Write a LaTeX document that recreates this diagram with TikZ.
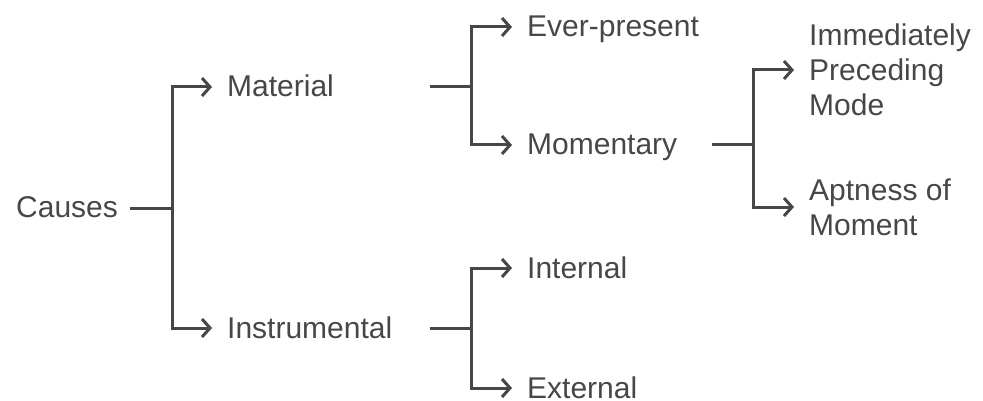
\documentclass[tikz,border=0pt]{standalone}
\usepackage{fontspec}
\setmainfont{Liberation Sans}
\usetikzlibrary{arrows.meta}
\definecolor{ink}{HTML}{474747}
\begin{document}
\begin{tikzpicture}[x=1pt,y=-1pt,
  lbl/.style={inner sep=0pt, anchor=base west, text=ink, font=\fontsize{30}{35}\selectfont},
  mlbl/.style={inner sep=0pt, anchor=west, text=ink, align=left, font=\fontsize{30}{35}\selectfont},
  link/.style={draw=ink, line width=3pt},
  arr/.style={link, -{Straight Barb[length=8pt,width=18pt,line width=3pt]}}]
\useasboundingbox (0,0) rectangle (983,401);

% labels (baseline sits 10pt below the connector height)
\node[lbl] (causes) at (16,218) {Causes};
\node[lbl] (material) at (227,97) {Material};
\node[lbl] (instr) at (227,338) {Instrumental};
\node[lbl] (ever) at (527,37) {Ever-present};
\node[lbl] (moment) at (527,155) {Momentary};
\node[lbl] (internal) at (527,278) {Internal};
\node[lbl] (external) at (527,398) {External};
\node[mlbl] (imm) at (809,70) {Immediately\\Preceding\\Mode};
\node[mlbl] (apt) at (809,207) {Aptness of\\Moment};

% outgoing stubs and junction points of the tree
\coordinate (o1) at (130,208);  \coordinate (j1) at (172,208);
\coordinate (o2) at (430,87);   \coordinate (j2) at (471,87);
\coordinate (o3) at (430,328);  \coordinate (j3) at (471,328);
\coordinate (o4) at (712,145);  \coordinate (j4) at (753,145);

% Causes
\draw[link] (o1) -- (j1);
\draw[arr] (j1) |- ([shift={(-15pt,10pt)}]material.base west);
\draw[arr] (j1) |- ([shift={(-15pt,10pt)}]instr.base west);

% Material
\draw[link] (o2) -- (j2);
\draw[arr] (j2) |- ([shift={(-15pt,10pt)}]ever.base west);
\draw[arr] (j2) |- ([shift={(-15pt,10pt)}]moment.base west);

% Instrumental
\draw[link] (o3) -- (j3);
\draw[arr] (j3) |- ([shift={(-15pt,10pt)}]internal.base west);
\draw[arr] (j3) |- ([shift={(-15pt,10pt)}]external.base west);

% Momentary
\draw[link] (o4) -- (j4);
\draw[arr] (j4) |- ([xshift=-15pt]imm.west);
\draw[arr] (j4) |- ([xshift=-15pt]apt.west);
\end{tikzpicture}
\end{document}
